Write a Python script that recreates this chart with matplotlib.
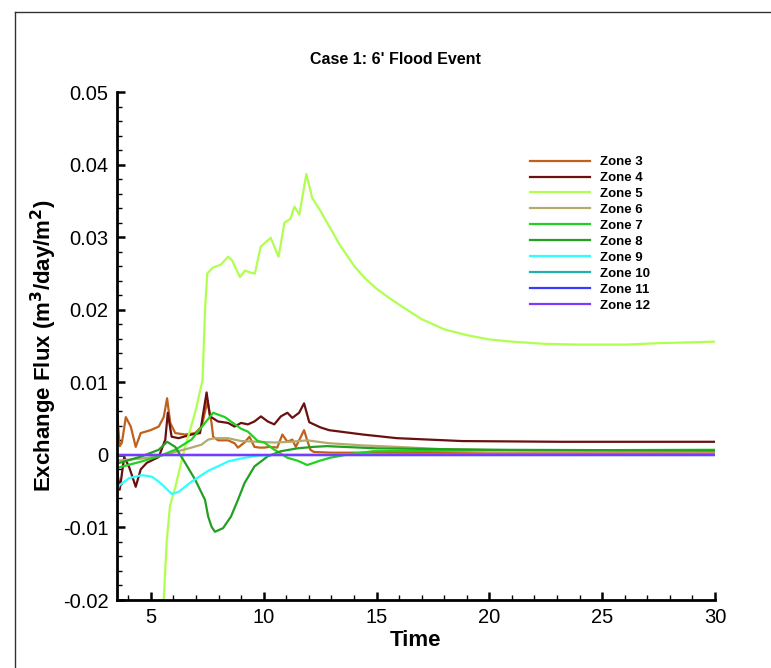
import matplotlib
matplotlib.use("Agg")
import matplotlib.pyplot as plt
from matplotlib.lines import Line2D
from matplotlib.ticker import MultipleLocator

plt.rcParams['font.family'] = ['Liberation Sans', 'DejaVu Sans']

# ---- exchange flux per zone (time, m3/day/m2) ----
zone3_t = [3.5, 3.55, 3.62, 3.72, 3.89, 4.11, 4.33, 4.55, 4.77, 4.99, 5.35, 5.57, 5.72, 5.86,
           6.08, 6.52, 6.96, 7.25, 7.51, 7.69, 7.76, 7.98, 8.42, 8.71, 8.86, 9.15, 9.37, 9.59,
           9.81, 10.03, 10.25, 10.6, 10.83, 11.05, 11.27, 11.42, 11.57, 11.79, 11.93, 12.07,
           12.22, 13.0, 15.0, 20.0, 30.0]
zone3_q = [0.008, 0.004, 0.0012, 0.0017, 0.0052, 0.0039, 0.0011, 0.003, 0.0032, 0.0034, 0.0039,
           0.0052, 0.0078, 0.0044, 0.003, 0.0028, 0.003, 0.0039, 0.0074, 0.0044, 0.0025, 0.002,
           0.002, 0.0016, 0.001, 0.0017, 0.0025, 0.0011, 0.001, 0.001, 0.0011, 0.001, 0.0028,
           0.0018, 0.0021, 0.0011, 0.002, 0.0034, 0.002, 0.0007, 0.0004, 0.0003, 0.0003, 0.0002,
           0.0002]

zone4_t = [3.5, 3.62, 3.82, 4.04, 4.33, 4.55, 4.82, 5.35, 5.64, 5.75, 5.92, 6.23, 6.8, 7.18,
           7.47, 7.62, 7.98, 8.42, 8.71, 9.0, 9.3, 9.59, 9.88, 10.18, 10.47, 10.76, 11.05, 11.27,
           11.57, 11.79, 12.02, 12.5, 12.9, 14.4, 15.9, 18.8, 23.2, 30.0]
zone4_q = [-0.002, -0.0048, -0.0003, -0.0017, -0.0044, -0.002, -0.0011, -0.0003, 0.0021, 0.0058,
           0.0025, 0.0023, 0.0028, 0.003, 0.0086, 0.0053, 0.0046, 0.0044, 0.0039, 0.0044, 0.0042,
           0.0046, 0.0053, 0.0046, 0.0042, 0.0053, 0.0058, 0.0051, 0.0058, 0.0071, 0.0045, 0.0038,
           0.0034, 0.0028, 0.0023, 0.0019, 0.0018, 0.0018]

zone5_t = [5.45, 5.57, 5.7, 5.85, 6.08, 6.37, 6.52, 6.96, 7.29, 7.4, 7.5, 7.75, 8.1, 8.42, 8.6,
           8.95, 9.17, 9.43, 9.61, 9.87, 10.31, 10.66, 10.92, 11.18, 11.36, 11.58, 11.89, 12.15,
           12.5, 12.81, 13.4, 14.04, 14.5, 15.0, 15.57, 16.0, 17.0, 18.0, 19.0, 20.0, 21.0,
           22.45, 23.9, 26.1, 27.6, 30.0]
zone5_q = [-0.03, -0.02, -0.012, -0.007, -0.0045, -0.0007, 0.0011, 0.0058, 0.0103, 0.02, 0.025,
           0.0258, 0.0262, 0.0273, 0.0268, 0.0245, 0.0254, 0.0251, 0.025, 0.0287, 0.0299, 0.0273,
           0.032, 0.0325, 0.0342, 0.0331, 0.0387, 0.0354, 0.0337, 0.032, 0.0288, 0.0259, 0.0243,
           0.0229, 0.0216, 0.0207, 0.0187, 0.0173, 0.0165, 0.0159, 0.0156, 0.0153, 0.0152,
           0.0152, 0.0154, 0.0156]

zone6_t = [3.5, 4.6, 5.35, 6.08, 6.8, 7.24, 7.54, 7.84, 8.42, 9.0, 9.74, 10.47, 11.2, 11.93,
           12.9, 14.4, 15.9, 17.8, 22.0, 30.0]
zone6_q = [-0.0008, -0.0005, -0.0002, 0.0004, 0.001, 0.0014, 0.0021, 0.0023, 0.0023, 0.0019,
           0.0018, 0.0017, 0.0018, 0.002, 0.0016, 0.0013, 0.0011, 0.0008, 0.0006, 0.0005]

zone7_t = [3.5, 4.6, 5.35, 6.08, 6.8, 7.4, 7.76, 8.28, 8.55, 9.0, 9.3, 9.74, 10.03, 10.47, 10.6,
           11.05, 11.5, 11.93, 12.5, 12.94, 13.8, 14.87, 20.0, 30.0]
zone7_q = [-0.0018, -0.0009, -0.0002, 0.0007, 0.0021, 0.0044, 0.0058, 0.0052, 0.0046, 0.0036,
           0.0032, 0.0019, 0.0017, 0.0007, 0.0005, -0.0004, -0.0008, -0.0014, -0.0008, -0.0004,
           0.0001, 0.0005, 0.0006, 0.0007]

zone8_t = [3.5, 4.6, 5.35, 5.72, 6.08, 6.52, 6.96, 7.4, 7.54, 7.69, 7.84, 8.2, 8.55, 8.86, 9.15,
           9.59, 10.18, 10.76, 11.5, 12.2, 12.8, 15.0, 20.0, 30.0]
zone8_q = [-0.0012, -0.0002, 0.0007, 0.0018, 0.0011, -0.0011, -0.0034, -0.0062, -0.0085, -0.0099,
           -0.0106, -0.0101, -0.0085, -0.0062, -0.0039, -0.0016, -0.0002, 0.0005, 0.0009, 0.0011,
           0.0012, 0.0009, 0.0007, 0.0006]

zone9_t = [3.5, 3.6, 4.04, 4.6, 5.04, 5.35, 5.5, 5.93, 6.23, 6.8, 7.54, 8.1, 8.42, 9.0, 9.74,
           10.5, 15.0, 30.0]
zone9_q = [-0.0048, -0.0042, -0.0032, -0.0028, -0.003, -0.0037, -0.0041, -0.0054, -0.0051,
           -0.0037, -0.0022, -0.0014, -0.0009, -0.0005, -0.0001, 0.0, 0.0, 0.0]

zone10_t = [3.5, 30.0]
zone10_q = [0.0, 0.0]
zone11_t = [3.5, 30.0]
zone11_q = [0.0, 0.0]
zone12_t = [3.5, 30.0]
zone12_q = [0.0, 0.0]

zone_labels = ["Zone 3", "Zone 4", "Zone 5", "Zone 6", "Zone 7", "Zone 8",
               "Zone 9", "Zone 10", "Zone 11", "Zone 12"]
zone_colors = ["#c0601a", "#6a1010", "#b0ff50", "#b4aa6e", "#22d022", "#22a022",
               "#30ffff", "#20b0b0", "#3a3aff", "#7a3aff"]
series = [(zone3_t, zone3_q), (zone4_t, zone4_q), (zone5_t, zone5_q), (zone6_t, zone6_q),
          (zone7_t, zone7_q), (zone8_t, zone8_q), (zone9_t, zone9_q), (zone10_t, zone10_q),
          (zone11_t, zone11_q), (zone12_t, zone12_q)]

fig = plt.figure(figsize=(7.71, 6.68), dpi=100)
ax = fig.add_axes([117 / 771, 68 / 668, 598 / 771, 508 / 668])

for (t, q), lab, col in zip(series, zone_labels, zone_colors):
    ax.plot(t, q, color=col, lw=1.6, label=lab, solid_joinstyle='round')

ax.set_xlim(3.5, 30)
ax.set_ylim(-0.02, 0.05)
ax.xaxis.set_major_locator(MultipleLocator(5))
ax.xaxis.set_minor_locator(MultipleLocator(1))
ax.yaxis.set_major_locator(MultipleLocator(0.01))
ax.yaxis.set_minor_locator(MultipleLocator(0.002))
ax.yaxis.set_major_formatter(plt.FuncFormatter(lambda v, p: "0" if abs(v) < 1e-9 else f"{v:.2f}"))

for s in ("top", "right"):
    ax.spines[s].set_visible(False)
for s in ("left", "bottom"):
    ax.spines[s].set_linewidth(2.0)
ax.tick_params(which="major", direction="in", length=6, width=1.8, labelsize=14.5, pad=6)
ax.tick_params(which="minor", direction="in", length=3.5, width=1.0)

ax.set_xlabel("Time", fontsize=16, fontweight="bold", labelpad=2)
ax.set_ylabel("Exchange Flux (m$^\\mathbf{3}$/day/m$^\\mathbf{2}$)", fontsize=16,
              fontweight="bold", labelpad=3)
fig.text(395 / 771, 1 - 59 / 668, "Case 1: 6' Flood Event", ha="center", va="center",
         fontsize=11.5, fontweight="bold")

leg = ax.legend(loc="upper left", bbox_to_anchor=(413 / 598, 1 - 64 / 508), frameon=False,
                prop={"weight": "bold", "size": 9.5}, handlelength=4.55, handletextpad=0.75,
                labelspacing=0.28, borderpad=0, borderaxespad=0)

# outer frame (top and left edges)
fig.add_artist(Line2D([15 / 771, 1.0], [1 - 12 / 668, 1 - 12 / 668], color="#333333", lw=1.0,
                      transform=fig.transFigure))
fig.add_artist(Line2D([15 / 771, 15 / 771], [0.0, 1 - 12 / 668], color="#333333", lw=1.0,
                      transform=fig.transFigure))

fig.savefig("out.png", dpi=100)
